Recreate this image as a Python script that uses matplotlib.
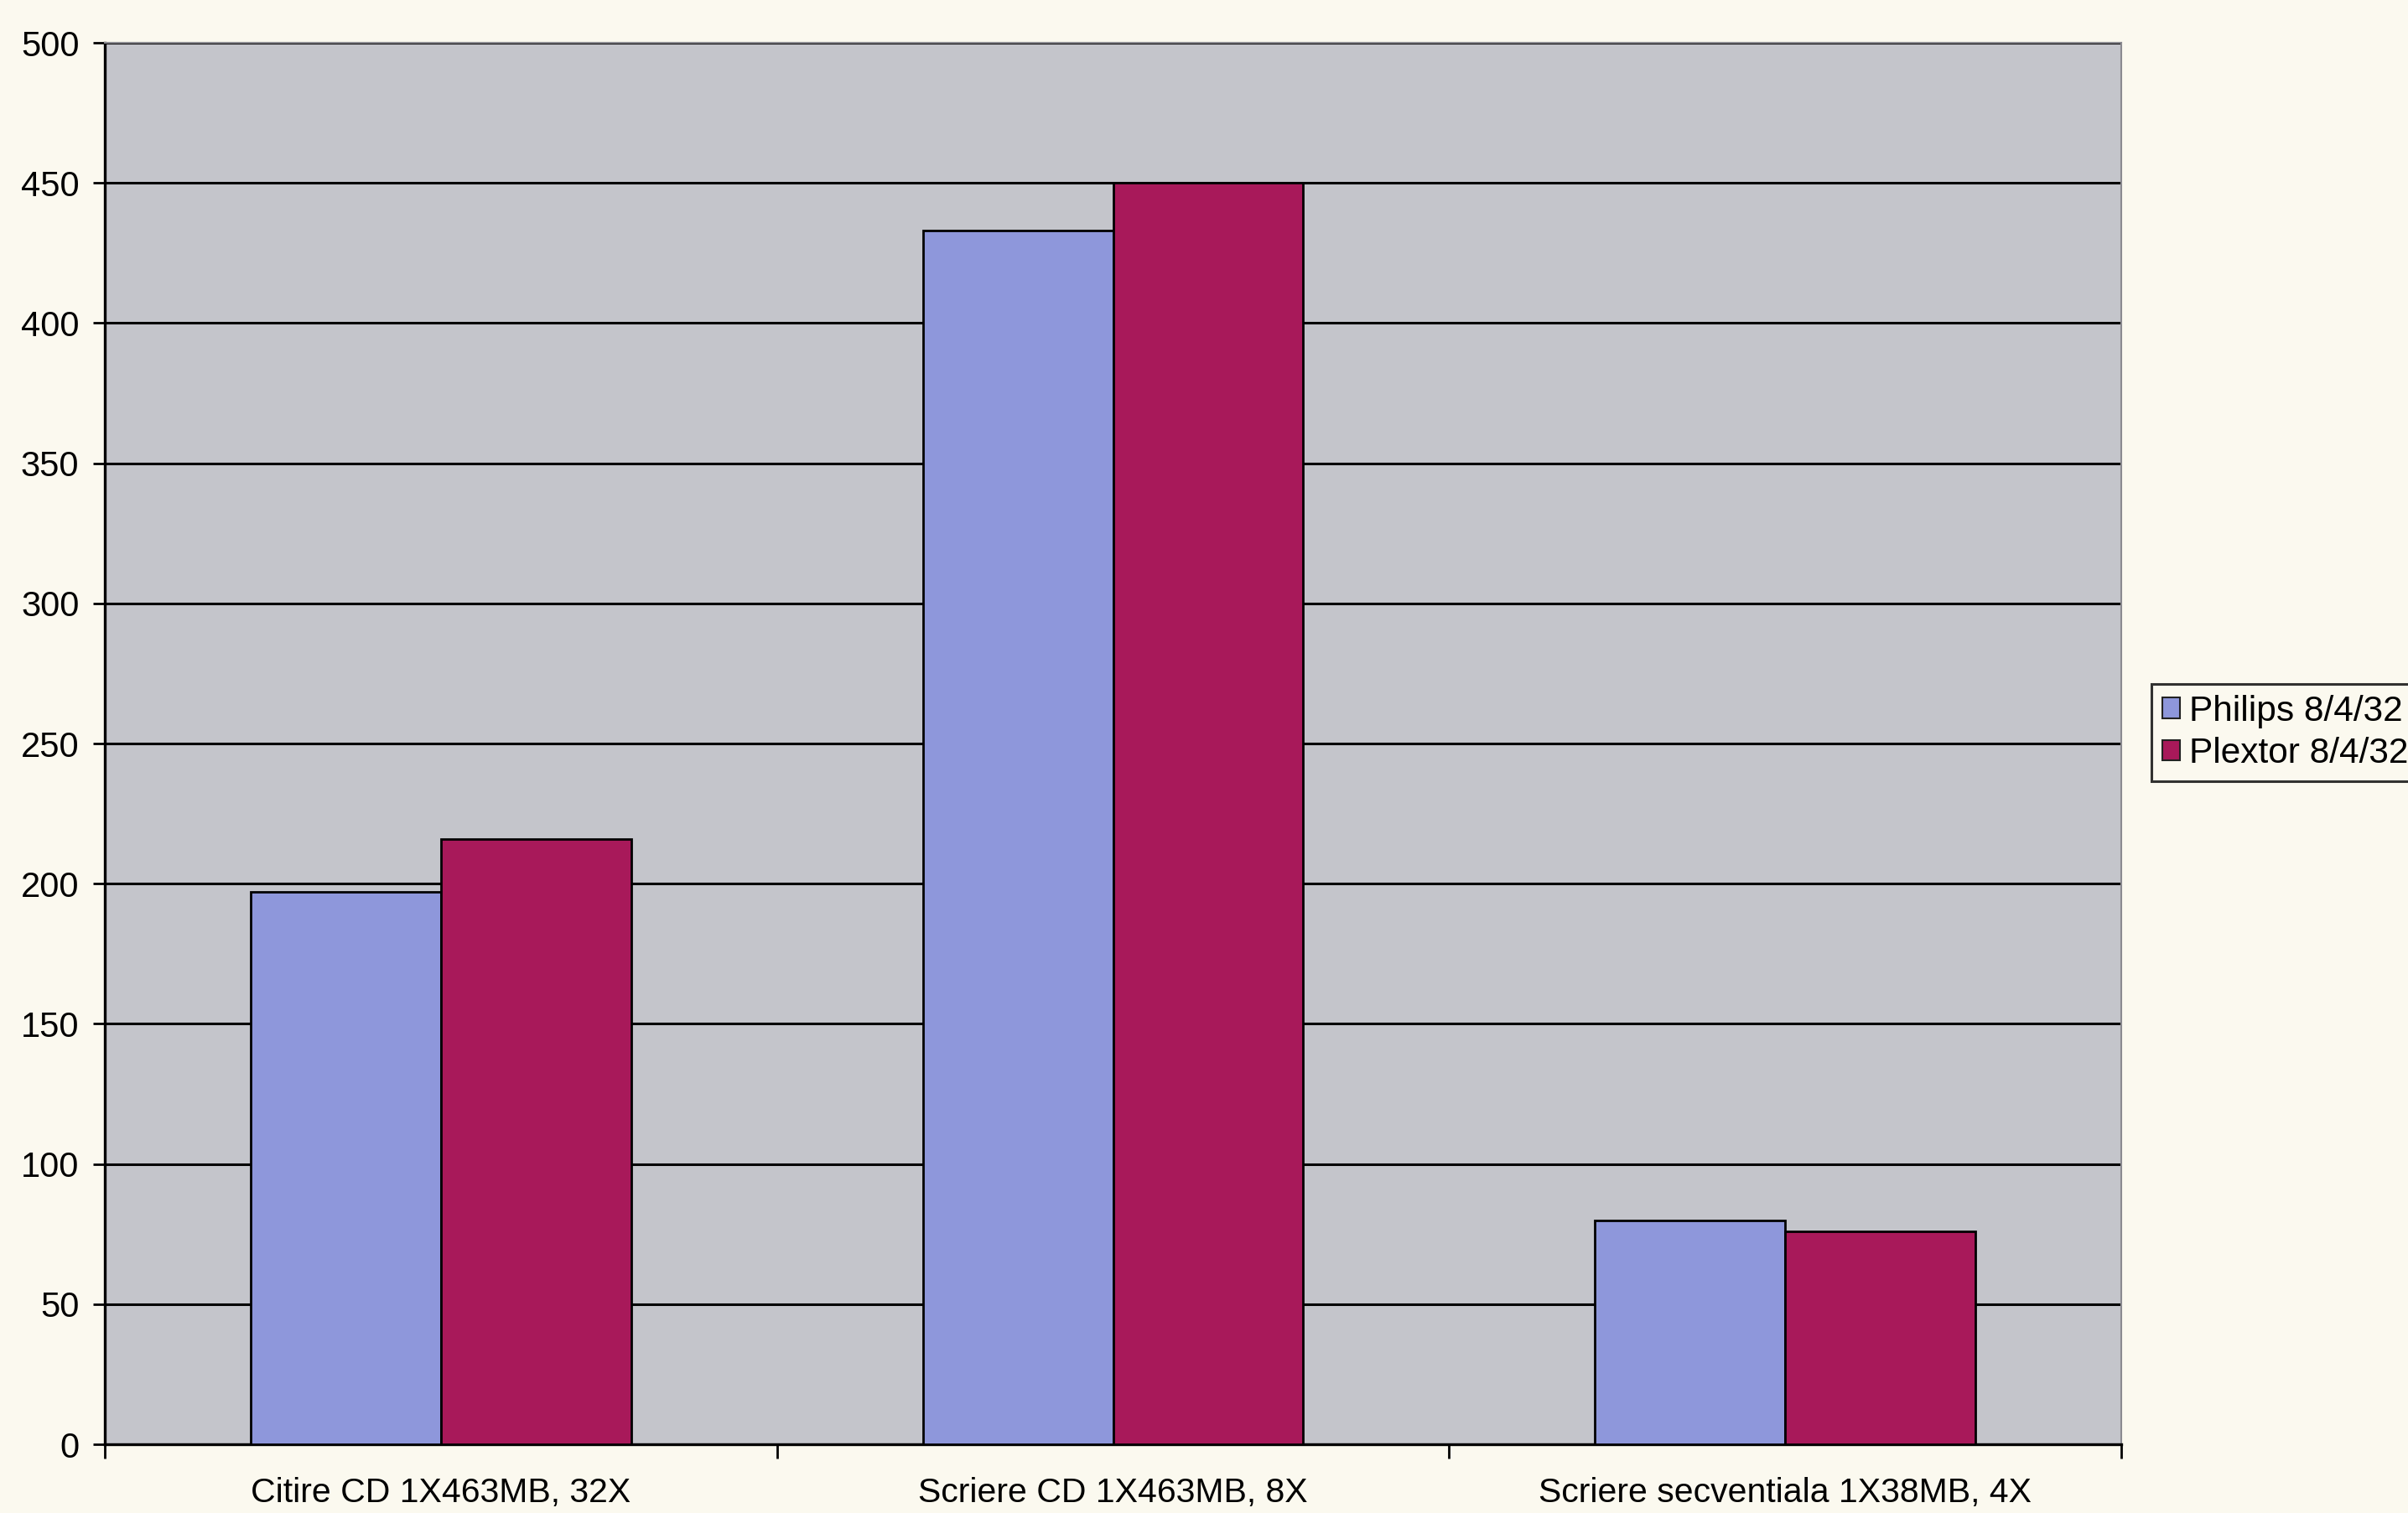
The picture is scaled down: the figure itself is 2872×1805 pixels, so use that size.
import matplotlib
matplotlib.use("Agg")
import matplotlib.pyplot as plt
import numpy as np

# Benchmark categories and timings for the two CD writers
categories = ["Citire CD 1X463MB, 32X", "Scriere CD 1X463MB, 8X", "Scriere secventiala 1X38MB, 4X"]
series_names = ["Philips 8/4/32", "Plextor 8/4/32"]
philips = [197, 433, 80]
plextor = [216, 450, 76]
y_ticks = [0, 50, 100, 150, 200, 250, 300, 350, 400, 450, 500]

paper = "#fbf9ef"
plot_bg = "#c4c5cb"
colors = ["#8e97db", "#a8195a"]

plt.rcParams["font.family"] = ["Liberation Sans", "DejaVu Sans"]

fig = plt.figure(figsize=(28.72, 18.05), dpi=100, facecolor=paper)
ax = fig.add_axes([0.0435, 0.0454, 0.8375, 0.9263])
ax.set_facecolor(plot_bg)

x = np.arange(len(categories))
w = 0.283
ax.bar(x - w / 2, philips, width=w, color=colors[0], edgecolor="black",
       linewidth=2.0, label=series_names[0], zorder=3)
ax.bar(x + w / 2, plextor, width=w, color=colors[1], edgecolor="black",
       linewidth=2.0, label=series_names[1], zorder=3)

ax.set_xlim(-0.5, len(categories) - 0.5)
ax.set_ylim(0, 500)
ax.set_yticks(y_ticks)
ax.set_yticklabels([str(v) for v in y_ticks], fontsize=30)
ax.yaxis.grid(True, color="black", linewidth=2.2, zorder=1)
ax.set_axisbelow(True)

ax.set_xticks(x)
ax.set_xticklabels(categories, fontsize=29.5)
ax.set_xticks(np.arange(-0.5, len(categories), 1.0), minor=True)
ax.tick_params(axis="x", which="major", length=0, pad=28)
ax.tick_params(axis="x", which="minor", length=12, width=2, direction="out")
ax.tick_params(axis="y", length=10, width=2, direction="out", pad=12)

for side in ("left", "bottom"):
    ax.spines[side].set_color("black")
    ax.spines[side].set_linewidth(2.4)
for side in ("top", "right"):
    ax.spines[side].set_color("#8a8a90")
    ax.spines[side].set_linewidth(1.5)

leg = fig.legend(loc="upper left", bbox_to_anchor=(0.8935, 0.548),
                 fontsize=30.5, frameon=True, fancybox=False,
                 handlelength=0.5, handleheight=0.5, handletextpad=0.25,
                 borderpad=0.3, labelspacing=0.25, borderaxespad=0)
leg.get_frame().set_edgecolor("black")
leg.get_frame().set_linewidth(2.2)
leg.get_frame().set_facecolor(paper)
for h in leg.legend_handles:
    h.set_edgecolor("#222")
    h.set_linewidth(1.5)

fig.savefig("out.png", dpi=100, facecolor=paper)
